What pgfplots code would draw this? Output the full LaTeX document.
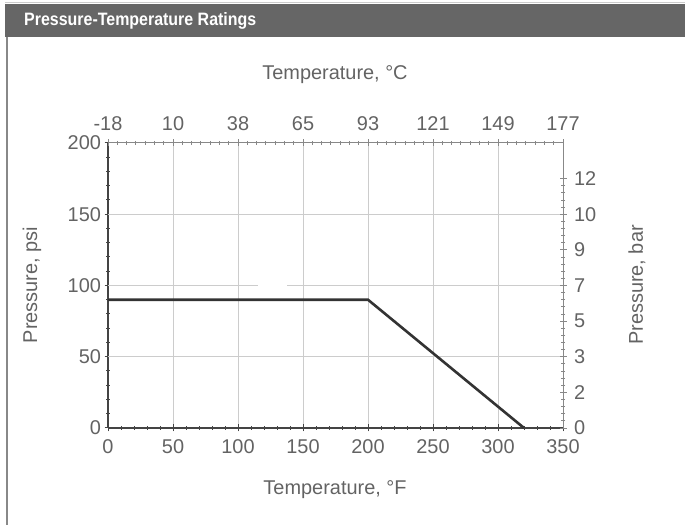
\documentclass[border=0pt]{standalone}
\usepackage{pgfplots}
\pgfplotsset{compat=1.18}
\usepackage{fontspec}
\setmainfont{Liberation Sans}
\definecolor{hdr}{HTML}{666666}
\definecolor{txt}{HTML}{636363}
\definecolor{axd}{HTML}{444444}
\definecolor{axl}{HTML}{888888}
\definecolor{grd}{HTML}{CCCCCC}
\definecolor{lin}{HTML}{333333}
\begin{document}
\begin{tikzpicture}[x=1bp,y=1bp]
\path[use as bounding box] (0,0) rectangle (685,525);
\fill[hdr] (5,488) rectangle (685,521);
\draw[gray!40, line width=1bp] (5,522) -- (685,522);
\draw[axl, line width=1.5bp] (7,0) -- (7,488);
\node[anchor=west, inner sep=0pt, text=white, font=\fontsize{18}{20}\selectfont\bfseries] at (24,504) {\scalebox{0.89}[1]{Pressure-Temperature Ratings}};

\begin{axis}[at={(108bp,97bp)}, anchor=south west, scale only axis, width=455bp, height=285bp,
 xmin=0,xmax=350,ymin=0,ymax=200,
 axis x line*=bottom, axis y line*=left,
 xtick={0,50,...,350}, ytick={0,50,...,200},
 minor x tick num=4, minor y tick num=4,
 tick align=center, major tick length=7bp, minor tick length=4bp,
 axis line style={axd, line width=1.6bp, -},
 every tick/.style={axd, line width=1bp},
 tick label style={text=txt, font=\fontsize{20}{22}\selectfont},
 xticklabel style={yshift=-5bp},
 yticklabel style={xshift=0bp},
 /pgf/number format/assume math mode=true,
 xmajorgrids, grid style={grd, line width=0.8bp},
 clip=false]
\addplot[grd, line width=0.8bp, forget plot] coordinates {(0,50)(350,50)};
\addplot[grd, line width=0.8bp, forget plot] coordinates {(0,150)(350,150)};
\addplot[grd, line width=0.8bp, forget plot] coordinates {(0,100)(115,100)};
\addplot[grd, line width=0.8bp, forget plot] coordinates {(138,100)(350,100)};
\addplot[lin, line width=2.6bp] coordinates {(0,90)(200,90)(320,0)};
\end{axis}

\begin{axis}[at={(108bp,97bp)}, anchor=south west, scale only axis, width=455bp, height=285bp,
 xmin=0,xmax=350,ymin=0,ymax=200,
 axis x line*=top, axis y line*=right,
 xtick={0,50,...,350}, xticklabels={-18,10,38,65,93,121,149,177},
 ytick={0,25,...,175}, yticklabels={0,2,3,5,7,9,10,12},
 minor x tick num=6, minor y tick num=4,
 tick align=center, major tick length=7bp, minor tick length=4bp,
 axis line style={axl, line width=1bp, -},
 every tick/.style={axl, line width=0.8bp},
 tick label style={text=txt, font=\fontsize{20}{22}\selectfont},
 xticklabel style={yshift=5bp},
 yticklabel style={xshift=4bp},
 /pgf/number format/assume math mode=true]
\end{axis}

\node[text=txt, font=\fontsize{20}{22}\selectfont] at (335,450) {Temperature, °C};
\node[text=txt, font=\fontsize{20}{22}\selectfont] at (335,35) {Temperature, °F};
\node[text=txt, font=\fontsize{20}{22}\selectfont, rotate=90] at (32,240) {Pressure, psi};
\node[text=txt, font=\fontsize{20}{22}\selectfont, rotate=90] at (637,240) {Pressure, bar};
\end{tikzpicture}
\end{document}
